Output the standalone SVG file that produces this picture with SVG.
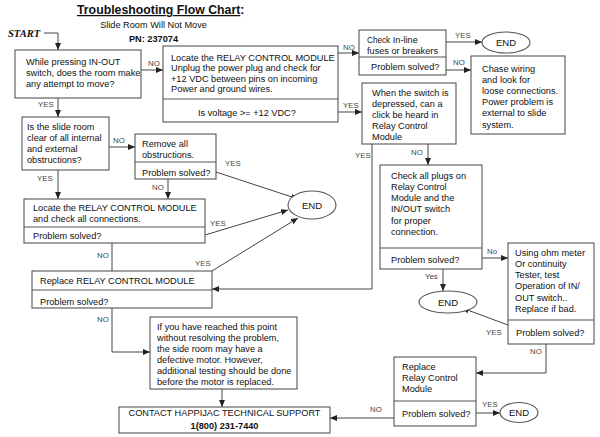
<svg xmlns="http://www.w3.org/2000/svg" width="600" height="437" viewBox="0 0 600 437">
<defs>
<marker id="arr" markerUnits="userSpaceOnUse" markerWidth="7" markerHeight="6" refX="7" refY="3" orient="auto">
<path d="M0,0 L7,3 L0,6 z" fill="#222"/>
</marker>
<style>
.box{fill:#fff;stroke:#555;stroke-width:1.1}
.div{stroke:#555;stroke-width:1.1}
.t{font-family:"Liberation Sans",Arial,sans-serif;font-size:9.2px;fill:#111}
.lbl{font-family:"Liberation Sans",Arial,sans-serif;font-size:7.8px;fill:#444}
.c{fill:none;stroke:#444;stroke-width:1}
.a{marker-end:url(#arr)}
.end{font-family:"Liberation Sans",Arial,sans-serif;font-size:9.5px;fill:#111;text-anchor:middle}
</style>
</defs>
<rect width="600" height="437" fill="#fff"/>

<g id="title">
<text x="77" y="14" font-family="Liberation Sans,Arial,sans-serif" font-size="12.3" font-weight="bold" fill="#111"><tspan text-decoration="underline">Troubleshooting Flow Chart</tspan>:</text>
<text x="153.5" y="28" class="t" font-size="9.6" text-anchor="middle">Slide Room Will Not Move</text>
<text x="153.5" y="42" class="t" font-size="9.3" font-weight="bold" text-anchor="middle">PN: 237074</text>
<text x="8" y="37" font-family="Liberation Serif,'Times New Roman',serif" font-size="10.5" font-weight="bold" font-style="italic" fill="#111">START</text>
</g>

<g id="connectors">
<path class="c a" d="M44,33 H58 V50"/>
<path class="c a" d="M141,70 H163"/><text class="lbl" x="148" y="66">NO</text>
<path class="c a" d="M58,98 V117"/><text class="lbl" x="38" y="107">YES</text>
<path class="c a" d="M338,53 H359"/><text class="lbl" x="343" y="50">NO</text>
<path class="c a" d="M338,112 H362"/><text class="lbl" x="343" y="108">YES</text>
<path class="c a" d="M446,42 H482"/><text class="lbl" x="455" y="38">YES</text>
<path class="c a" d="M446,70 H471"/><text class="lbl" x="453" y="65">NO</text>
<path class="c a" d="M428,144 V165"/><text class="lbl" x="411" y="155">NO</text>
<path class="c a" d="M372,144 V289 H212"/><text class="lbl" x="355" y="158">YES</text>
<path class="c a" d="M482,258 H508"/><text class="lbl" x="487" y="254">No</text>
<path class="c a" d="M443,269 V291"/><text class="lbl" x="425" y="279">Yes</text>
<path class="c a" d="M508,325 L462,308"/><text class="lbl" x="486" y="335">YES</text>
<path class="c a" d="M546,344 V373 H476"/><text class="lbl" x="530" y="354">NO</text>
<path class="c a" d="M476,413 H500"/><text class="lbl" x="482" y="407">YES</text>
<path class="c a" d="M394,418 H330"/><text class="lbl" x="370" y="412">NO</text>
<path class="c a" d="M222,389 V407"/>
<path class="c a" d="M112,308 V352 H150"/><text class="lbl" x="97" y="322">NO</text>
<path class="c a" d="M212,271 L298,218"/><text class="lbl" x="195" y="266">YES</text>
<path class="c a" d="M205,235 L288,210"/><text class="lbl" x="210" y="226">YES</text>
<path class="c" d="M112,243 V271"/><text class="lbl" x="97" y="258">NO</text>
<path class="c a" d="M58,170 V199"/><text class="lbl" x="37" y="181">YES</text>
<path class="c a" d="M109,147 H135"/><text class="lbl" x="113" y="143">NO</text>
<path class="c a" d="M168,179 V199"/><text class="lbl" x="152" y="190">NO</text>
<path class="c a" d="M216,172 L298,199"/><text class="lbl" x="225" y="166">YES</text>
</g>

<g id="n-move">
<rect class="box" x="15" y="50" width="126" height="48"/>
<text class="t" x="26" y="64.5" font-size="9">While pressing IN-OUT</text>
<text class="t" x="26" y="75.5" font-size="9">switch, does the room make</text>
<text class="t" x="26" y="86.5" font-size="9">any attempt to move?</text>
</g>

<g id="n-voltage">
<rect class="box" x="163" y="46" width="175" height="76"/>
<line class="div" x1="163" y1="99" x2="338" y2="99"/>
<text class="t" x="171" y="60.5">Locate the RELAY CONTROL MODULE</text>
<text class="t" x="171" y="71">Unplug the power plug and check for</text>
<text class="t" x="171" y="81.5">+12 VDC between pins on incoming</text>
<text class="t" x="171" y="92">Power and ground wires.</text>
<text class="t" x="198" y="116">Is voltage &gt;= +12 VDC?</text>
</g>

<g id="n-fuses">
<rect class="box" x="359" y="30" width="87" height="45"/>
<line class="div" x1="359" y1="57" x2="446" y2="57"/>
<text class="t" x="367" y="42.5"><tspan font-size="8.2">Check</tspan> In-line</text>
<text class="t" x="367" y="53.5">fuses or breakers</text>
<text class="t" x="371" y="70">Problem solved?</text>
</g>

<g id="n-end-top">
<ellipse class="box" cx="506" cy="42.5" rx="24" ry="10.5"/>
<text class="end" x="506" y="46">END</text>
</g>

<g id="n-chase">
<rect class="box" x="471" y="56" width="94" height="78"/>
<text class="t" x="482" y="71.5">Chase wiring</text>
<text class="t" x="482" y="82.7">and look for</text>
<text class="t" x="482" y="93.9">loose connections.</text>
<text class="t" x="482" y="105.1">Power problem is</text>
<text class="t" x="482" y="116.3">external to slide</text>
<text class="t" x="482" y="127.5">system.</text>
</g>

<g id="n-click">
<rect class="box" x="362" y="83" width="94" height="61"/>
<text class="t" x="372" y="95.5">When the switch is</text>
<text class="t" x="372" y="106.7">depressed, can a</text>
<text class="t" x="372" y="117.9">click be heard in</text>
<text class="t" x="372" y="129.1">Relay Control</text>
<text class="t" x="372" y="140.3">Module</text>
</g>

<g id="n-plugs">
<rect class="box" x="380" y="165" width="102" height="104"/>
<line class="div" x1="380" y1="248" x2="482" y2="248"/>
<text class="t" x="391" y="178.5">Check all plugs on</text>
<text class="t" x="391" y="189.8">Relay Control</text>
<text class="t" x="391" y="201.1">Module  and the</text>
<text class="t" x="391" y="212.4">IN/OUT switch</text>
<text class="t" x="391" y="223.7">for proper</text>
<text class="t" x="391" y="235">connection.</text>
<text class="t" x="391" y="262.5">Problem solved?</text>
</g>

<g id="n-ohm">
<rect class="box" x="508" y="243" width="86" height="101"/>
<line class="div" x1="508" y1="320" x2="594" y2="320"/>
<text class="t" x="515" y="255.5">Using ohm meter</text>
<text class="t" x="515" y="266.8">Or continuity</text>
<text class="t" x="515" y="278.1">Tester, test</text>
<text class="t" x="515" y="289.4">Operation of IN/</text>
<text class="t" x="515" y="300.7">OUT switch..</text>
<text class="t" x="515" y="312">Replace if bad.</text>
<text class="t" x="516" y="336">Problem solved?</text>
</g>

<g id="n-end-mid">
<ellipse class="box" cx="448" cy="302" rx="29" ry="11"/>
<text class="end" x="448" y="305.5">END</text>
</g>

<g id="n-replace2">
<rect class="box" x="394" y="357" width="82" height="69"/>
<line class="div" x1="394" y1="401" x2="476" y2="401"/>
<text class="t" x="402" y="369.5">Replace</text>
<text class="t" x="402" y="380.7">Relay Control</text>
<text class="t" x="402" y="391.9">Module</text>
<text class="t" x="402" y="416.5">Problem solved?</text>
</g>

<g id="n-end-bottom">
<ellipse class="box" cx="519" cy="412.5" rx="19" ry="10"/>
<text class="end" x="519" y="416">END</text>
</g>

<g id="n-contact">
<rect class="box" x="119" y="407" width="211" height="26"/>
<text class="t" x="224.5" y="416" text-anchor="middle">CONTACT HAPPIJAC TECHNICAL SUPPORT</text>
<text class="t" x="224.5" y="428.5" text-anchor="middle" font-weight="bold">1(800) 231-7440</text>
</g>

<g id="n-motor">
<rect class="box" x="150" y="317" width="147" height="72"/>
<text class="t" x="157" y="329.5">If you have reached this point</text>
<text class="t" x="157" y="340.5">without resolving the problem,</text>
<text class="t" x="157" y="351.5">the side room may have a</text>
<text class="t" x="157" y="362.5">defective motor.  However,</text>
<text class="t" x="157" y="373.5">additional testing should be done</text>
<text class="t" x="157" y="384.5">before the motor is replaced.</text>
</g>

<g id="n-replace1">
<rect class="box" x="32" y="271" width="180" height="37"/>
<line class="div" x1="32" y1="290" x2="212" y2="290"/>
<text class="t" x="40" y="283.5">Replace RELAY CONTROL MODULE</text>
<text class="t" x="40" y="305">Problem solved?</text>
</g>

<g id="n-locate">
<rect class="box" x="24" y="199" width="181" height="44"/>
<line class="div" x1="24" y1="227" x2="205" y2="227"/>
<text class="t" x="33" y="210.5">Locate the RELAY CONTROL MODULE</text>
<text class="t" x="33" y="221.5">and check all connections.</text>
<text class="t" x="33" y="238.5">Problem solved?</text>
</g>

<g id="n-clear">
<rect class="box" x="22" y="117" width="87" height="53"/>
<text class="t" x="27" y="129.5">Is the slide room</text>
<text class="t" x="27" y="140.5">clear of all internal</text>
<text class="t" x="27" y="151.5">and external</text>
<text class="t" x="27" y="162.5">obstructions?</text>
</g>

<g id="n-remove">
<rect class="box" x="135" y="134" width="81" height="45"/>
<line class="div" x1="135" y1="162" x2="216" y2="162"/>
<text class="t" x="142" y="146.5">Remove all</text>
<text class="t" x="142" y="158">obstructions.</text>
<text class="t" x="142" y="175.5">Problem solved?</text>
</g>

<g id="n-end-left">
<ellipse class="box" cx="312" cy="205" rx="24" ry="14"/>
<text class="end" x="312" y="208.5">END</text>
</g>
</svg>
